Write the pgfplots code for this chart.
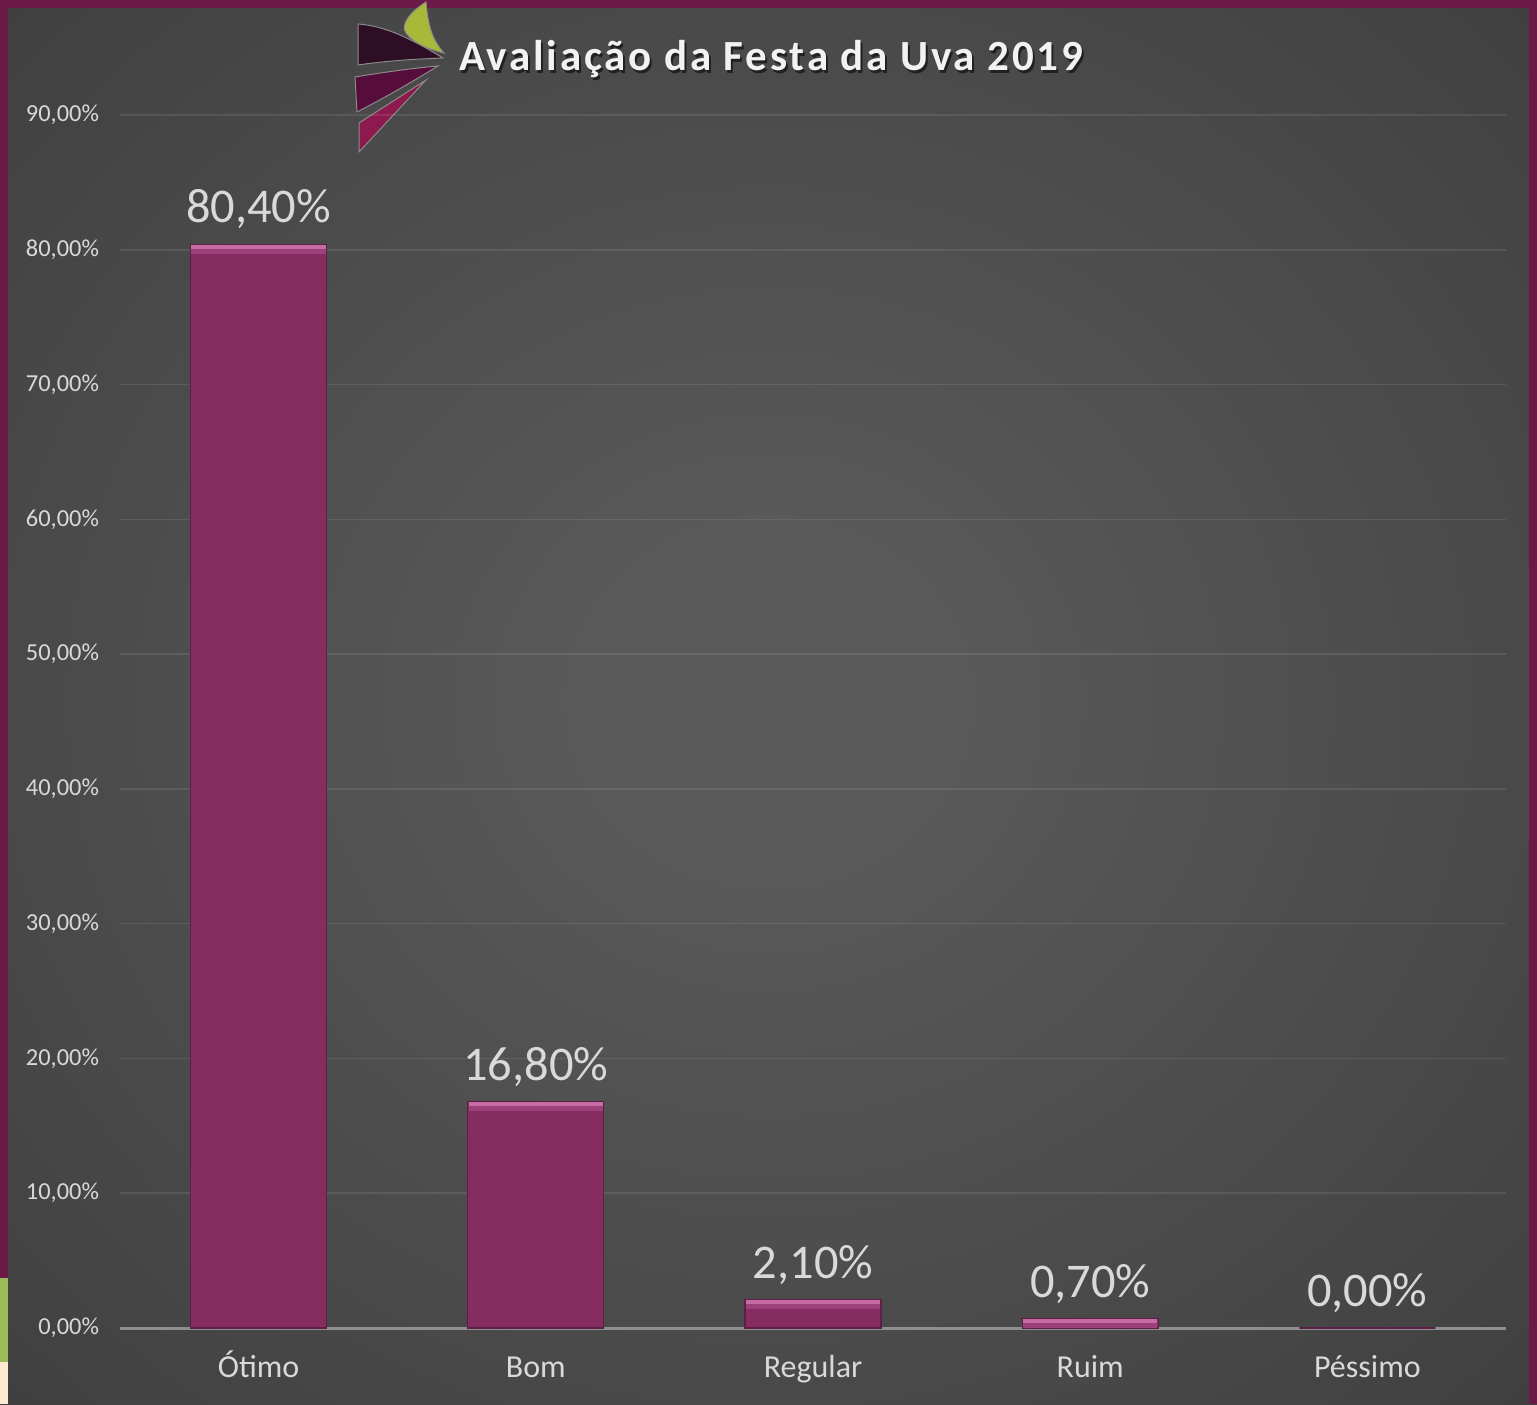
\documentclass[border=0pt]{standalone}
\usepackage{pgfplots}
\pgfplotsset{compat=1.18}
\usepackage{fontspec}
\setmainfont{Carlito}
\newfontfamily\titlefont[LetterSpace=6.5]{Carlito}

\definecolor{framered}{HTML}{6B1A47}
\definecolor{framegreen}{HTML}{9BBB59}
\definecolor{framecream}{HTML}{FDEAD0}
\definecolor{bgin}{HTML}{5A5A5A}
\definecolor{bgmid}{HTML}{404040}
\definecolor{bgedge}{HTML}{303030}
\definecolor{bgout}{HTML}{262626}
\definecolor{barfill}{HTML}{852D61}
\definecolor{baredge}{HTML}{5E1F45}
\definecolor{barhi}{HTML}{9E4079}
\definecolor{barhitop}{HTML}{C66CA2}
\definecolor{ticktext}{HTML}{D9D9D9}
\definecolor{axisgray}{HTML}{8F8F8F}
\definecolor{logogreen}{HTML}{A8B93A}
\definecolor{logodark}{HTML}{2E0E24}
\definecolor{logoplum}{HTML}{560D3B}
\definecolor{logopink}{HTML}{8C1A4E}
\definecolor{logoline}{HTML}{8A8A8A}

\pgfdeclareradialshading{bgshade}{\pgfpoint{0bp}{0bp}}{%
  color(0bp)=(bgin); color(5bp)=(bgin); color(35bp)=(bgmid);
  color(50bp)=(bgedge); color(71bp)=(bgout)}

\pgfplotstableread{
x  val
0  80.4
1  16.8
2  2.1
3  0.7
4  0.0
}\notas

% same bars without the empty one, for the bevel highlight on top
\pgfplotstableread{
x  val
0  80.4
1  16.8
2  2.1
3  0.7
}\notastopo

\begin{document}
\begin{tikzpicture}
% background and frame, in image pixels
\begin{scope}[shift={(0pt,702pt)},x=0.5pt,y=-0.5pt]
  \shade[shading=bgshade] (0,0) rectangle (1537,1404);
  \fill[framered] (0,0) rectangle (1537,8);
  \fill[framered] (0,0) rectangle (8,1278);
  \fill[framegreen] (0,1278) rectangle (8,1362);
  \fill[framecream] (0,1362) rectangle (8,1404);
  \fill[framered] (1529,0) rectangle (1537,1404);
  % logo
  \begin{scope}[draw=logoline, line width=0.5pt]
  \filldraw[fill=logogreen] (426,2) .. controls (410,12) and (400,25) .. (406,33)
     .. controls (415,45) and (432,50) .. (444,53)
     .. controls (432,40) and (428,25) .. (426,2) -- cycle;
  \filldraw[fill=logodark] (358,24) .. controls (385,26) and (410,38) .. (443,58)
     .. controls (415,59) and (385,61) .. (358,65) -- cycle;
  \filldraw[fill=logoplum] (355,77) .. controls (385,72) and (415,68) .. (438,66)
     .. controls (415,80) and (390,95) .. (357,112) -- cycle;
  \filldraw[fill=logopink] (426,80) -- (359,123) -- (359,152) -- cycle;
  \end{scope}
  % title
  \node[font=\titlefont\bfseries\fontsize{21.5}{22}\selectfont, text=black, opacity=0.55]
    at (773,62) {Avaliação da Festa da Uva 2019};
  \node[font=\titlefont\bfseries\fontsize{21.5}{22}\selectfont, text=white!95!black]
    at (771,59) {Avaliação da Festa da Uva 2019};
\end{scope}

\begin{axis}[
  at={(60pt,38pt)}, anchor=south west,
  scale only axis, width=693pt, height=606.5pt,
  xmin=-0.5, xmax=4.5, ymin=0, ymax=90,
  axis x line=bottom, axis y line=left,
  x axis line style={draw=axisgray, line width=1.5pt, -},
  y axis line style={draw=none},
  major tick length=0pt,
  xtick={0,1,2,3,4},
  xticklabels={Ótimo, Bom, Regular, Ruim, Péssimo},
  ytick={0,10,...,90},
  ymajorgrids,
  grid style={white, opacity=0.09, line width=0.75pt},
  /pgf/number format/assume math mode=true,
  yticklabel={\pgfmathprintnumber[fixed,fixed zerofill,precision=2,use comma]{\tick}\%},
  yticklabel style={font=\fontsize{12.2}{13}\selectfont, text=ticktext, xshift=-7pt},
  xticklabel style={font=\fontsize{16}{17}\selectfont, text=ticktext,
    text height=11pt, text depth=3.5pt, yshift=-10pt},
  clip=false,
]
\addplot[ybar, bar width=68pt, fill=barfill, draw=baredge, line width=0.6pt,
  nodes near coords={\pgfmathprintnumber[fixed,fixed zerofill,precision=2,use comma]{\pgfplotspointmeta}\%},
  every node near coord/.append style={font=\fontsize{24.2}{25}\selectfont,
    text=ticktext, anchor=south, yshift=4pt}]
  table[x=x, y=val] {\notas};
% bevel on the top of each bar
\addplot[only marks, mark=-, mark size=33.6pt,
  mark options={draw=barhi, line width=4.4pt, yshift=-2.4pt}]
  table[x=x, y=val] {\notastopo};
\addplot[only marks, mark=-, mark size=33.6pt,
  mark options={draw=barhitop, line width=1.8pt, yshift=-1.2pt}]
  table[x=x, y=val] {\notastopo};
\end{axis}
\end{tikzpicture}
\end{document}
